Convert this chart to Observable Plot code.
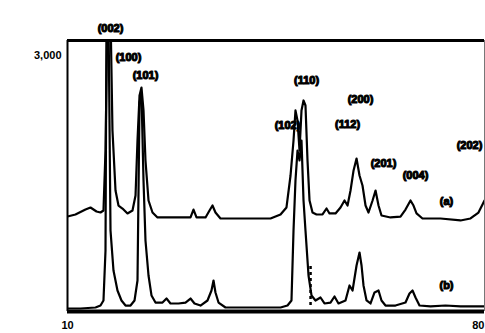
<!DOCTYPE html>
<html>
<head>
<meta charset="utf-8">
<script src="https://cdn.jsdelivr.net/npm/d3@7"></script>
<script src="https://cdn.jsdelivr.net/npm/@observablehq/plot@0.6"></script>
<style>
  html, body { margin: 0; padding: 0; background: #fff; }
</style>
</head>
<body>
<div id="chart"></div>
<script>
// Upper pattern (a): 2θ (deg) and intensity (counts, offset)
const twoThetaA = [10.00,11.34,13.02,13.86,14.87,15.54,16.04,16.38,16.71,17.22,17.55,18.06,18.56,19.23,20.07,20.91,21.42,21.75,22.09,22.42,22.76,23.09,23.60,24.27,25.11,30.65,31.15,31.66,33.17,33.84,34.34,34.84,35.68,44.08,45.76,46.76,47.44,47.94,48.27,48.61,48.95,49.28,49.62,49.95,50.29,50.63,51.13,51.80,52.81,53.48,53.98,54.99,55.83,56.50,57.01,57.51,58.02,58.52,59.02,59.52,60.03,60.53,61.21,61.71,62.21,62.71,64.22,65.90,66.74,67.58,68.08,68.59,69.59,72.61,75.97,77.65,78.99,80.00];
const intensityA = [1113,1137,1195,1219,1172,1160,1184,1887,3500,3500,2121,1418,1242,1207,1149,1184,1360,2004,2532,2625,2356,1770,1301,1160,1102,1102,1195,1102,1102,1184,1242,1160,1090,1090,1137,1219,1594,2004,2356,2239,1887,2356,2473,2414,1770,1301,1160,1137,1137,1207,1149,1149,1219,1301,1242,1418,1653,1793,1594,1477,1242,1160,1301,1418,1242,1125,1102,1113,1195,1301,1242,1149,1090,1090,1067,1090,1160,1301];

// Lower pattern (b)
const twoThetaB = [10.00,12.18,14.70,15.54,16.04,16.38,16.55,16.88,17.22,17.72,18.39,19.06,19.74,20.58,21.25,21.75,22.09,22.42,22.76,23.09,23.60,24.10,24.77,25.95,26.62,27.29,28.63,29.81,30.65,31.32,32.33,33.50,34.17,34.51,34.84,35.35,36.52,42.40,45.76,46.93,47.60,47.94,48.27,48.61,48.95,49.28,49.62,49.95,50.46,50.96,51.63,52.47,53.14,54.15,54.82,55.49,56.67,57.34,57.85,58.52,59.02,59.36,59.69,60.20,60.87,61.54,62.21,62.71,63.38,65.06,66.74,67.41,67.92,68.42,69.09,70.94,73.45,75.97,80.00];
const intensityB = [35,35,47,70,129,715,3500,3500,949,481,246,129,70,70,129,363,2450,2550,1535,832,422,188,105,105,152,94,94,105,152,94,70,129,246,363,223,105,47,47,47,70,129,949,1535,1887,1770,2004,1301,949,422,188,129,164,94,105,176,94,129,305,246,539,691,539,305,129,94,223,246,129,70,70,105,211,246,164,70,59,70,59,59];

// Peak annotations
const peakLabels = ["(002)","(100)","(101)","(110)","(102)","(200)","(112)","(201)","(004)","(202)","(a)","(b)"];
const peakTheta  = [17.22,20.24,23.09,50.12,46.93,59.19,57.01,63.05,68.42,77.48,73.62,73.62];
const peakInt    = [3317,2977,2766,2707,2180,2485,2192,1735,1594,1946,1289,305];

// Dashed reference marker
const markerTheta = [50.8];
const markerFrom = [70];
const markerTo = [539];

const xTickStart = [10];
const xTickEnd = [80];
const yTicks = [3000];

const dataA = twoThetaA.map((t, i) => ({t, v: intensityA[i]}));
const dataB = twoThetaB.map((t, i) => ({t, v: intensityB[i]}));
const labels = peakLabels.map((s, i) => ({s, t: peakTheta[i], v: peakInt[i]}));
const markers = markerTheta.map((t, i) => ({t, a: markerFrom[i], b: markerTo[i]}));

const chart = Plot.plot({
  width: 485,
  height: 333,
  marginLeft: 67,
  marginRight: 1,
  marginTop: 40,
  marginBottom: 22,
  style: {fontFamily: "Liberation Sans, Arial, sans-serif", fontSize: "11px", fontWeight: "bold", background: "#fff", color: "#000"},
  x: {domain: [10, 80], label: null},
  y: {domain: [0, 3176], label: null},
  marks: [
    Plot.axisX(xTickStart, {tickSize: 0, tickPadding: 10, label: null, fontWeight: "bold"}),
    Plot.axisX(xTickEnd, {tickSize: 0, tickPadding: 10, label: null, textAnchor: "end", fontWeight: "bold"}),
    Plot.axisY(yTicks, {tickFormat: d3.format(","), tickSize: 0, tickPadding: 6, label: null, fontWeight: "bold", stroke: "black", strokeWidth: 0.6}),
    Plot.line(dataA, {x: "t", y: "v", stroke: "black", strokeWidth: 2.2, clip: true}),
    Plot.line(dataB, {x: "t", y: "v", stroke: "black", strokeWidth: 2.2, clip: true}),
    Plot.ruleX(markers, {x: "t", y1: "a", y2: "b", stroke: "black", strokeWidth: 2.5, strokeDasharray: "3,3"}),
    Plot.ruleY([3176], {stroke: "black", strokeWidth: 3}),
    Plot.ruleY([0], {stroke: "black", strokeWidth: 4}),
    Plot.ruleX([10], {stroke: "black", strokeWidth: 2}),
    Plot.ruleX([80], {stroke: "#777", strokeWidth: 1}),
    Plot.text(labels, {x: "t", y: "v", text: "s", fill: "black", stroke: "black", strokeWidth: 1.1, fontSize: 11, fontWeight: "bold", clip: false})
  ]
});
document.getElementById("chart").appendChild(chart);
</script>
</body>
</html>
